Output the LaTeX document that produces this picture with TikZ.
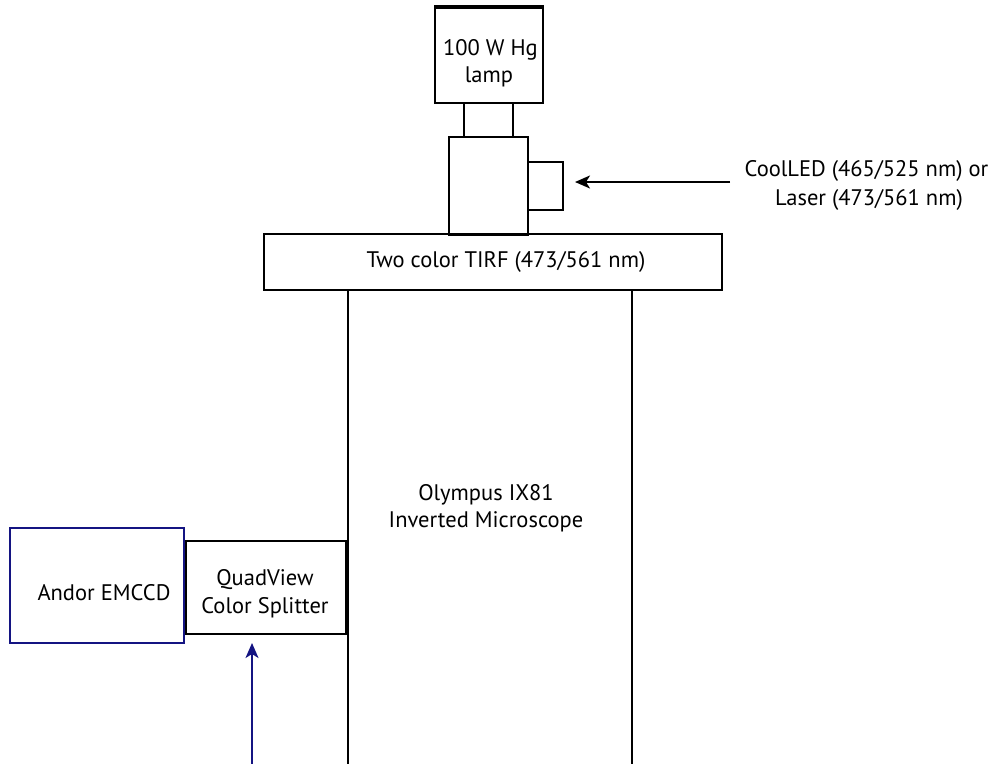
\documentclass[tikz,border=0pt]{standalone}
\usepackage{fontspec}
\setmainfont{PT Sans}
\usetikzlibrary{arrows.meta}
\definecolor{navy}{RGB}{20,20,130}
\tikzset{
  box/.style={draw=black, line width=1.8pt, inner sep=0pt, anchor=center},
  lbl/.style={font=\fontsize{22.5}{28}\selectfont, inner sep=0pt, anchor=base},
  arr/.style={line width=1.8pt, -{Stealth[length=15pt,width=13pt,inset=4pt]}},
}
\begin{document}
\begin{tikzpicture}[x=1pt,y=-1pt]
\useasboundingbox (0,0) rectangle (992,763);
\fill[white] (0,0) rectangle (992,763);
% microscope body
\node[box, minimum width=284pt, minimum height=490pt] (micro) at (490,535) {};
\node[lbl] (microtxta) at (486,500) {Olympus IX81};
\node[lbl] (microtxtb) at (486,527) {Inverted Microscope};
% TIRF
\node[box, fill=white, minimum width=458pt, minimum height=56pt] (tirf) at (493,262) {};
\node[lbl] (tirftxt) at (506,267) {Two color TIRF (473/561 nm)};
% lamp column
\node[box, minimum width=79pt, minimum height=98pt] (cube) at (488.5,186) {};
\node[box, minimum width=49pt, minimum height=34pt] (neck) at (488.5,120) {};
\node[box, minimum width=108pt, minimum height=95pt] (lamp) at (489,55.5) {};
\draw[line width=3.5pt] (lamp.north west) -- (lamp.north east);
\node[lbl] (lamptxta) at (490.5,55) {100 W Hg};
\node[lbl] (lamptxtb) at (489,82) {lamp};
\node[box, minimum width=35pt, minimum height=48pt] (side) at (545.5,186) {};
% light source
\node[lbl] (srca) at (866.5,176) {CoolLED (465/525 nm) or};
\node[lbl] (srcb) at (869,205) {Laser (473/561 nm)};
\coordinate (srcarr) at (730,182);
\coordinate (srctip) at (575,182);
\draw[arr] (srcarr) -- (srctip);
% camera
\node[box, minimum width=160pt, minimum height=93pt] (quad) at (266,587.5) {};
\node[lbl] (quadtxta) at (265,585) {QuadView};
\node[lbl] (quadtxtb) at (265,613) {Color Splitter};
\draw[line width=3pt] (quad.north east) -- (quad.south east);
\node[box, draw=navy, minimum width=174pt, minimum height=115pt] (emccd) at (97,585.5) {};
\node[lbl] (emccdtxt) at (104,600) {Andor EMCCD};
\coordinate (camin) at (252,770);
\coordinate (camtip) at (252,643);
\draw[arr, navy] (camin) -- (camtip);
\end{tikzpicture}
\end{document}
